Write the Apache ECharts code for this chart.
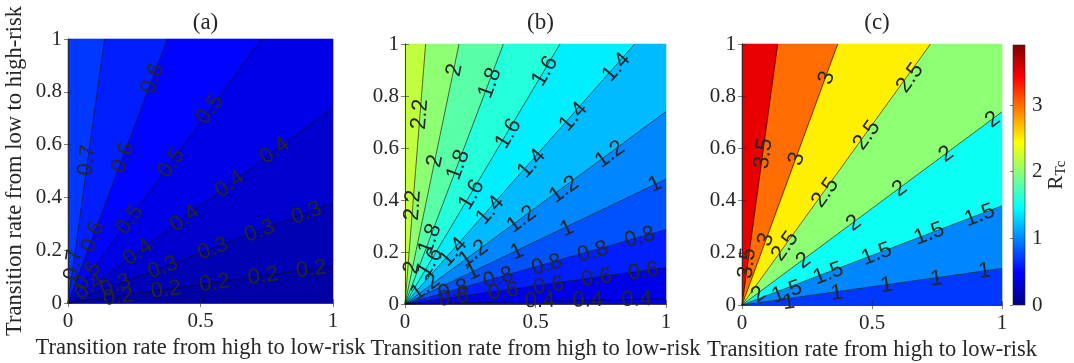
<!DOCTYPE html>
<html>
<head>
<meta charset="utf-8">
<script src="https://cdn.jsdelivr.net/npm/echarts@6/dist/echarts.min.js"></script>
<style>
html, body { margin: 0; padding: 0; background: #fff; }
#chart { width: 1074px; height: 363px; }
</style>
</head>
<body>
<div id="chart"></div>
<script>
// contour levels, and the point where each level's ray (from the origin) meets the border
var levelsA = [0.2, 0.3, 0.4, 0.5, 0.6, 0.7];
var endsA = [[1, 0.14], [1, 0.38], [1, 0.74], [0.73, 1], [0.375, 1], [0.138, 1]];
var floorA = 0.14;
var labelsA = [
    [0.32, 0.85, 0.6], [0.535, 0.733, 0.5], [0.072, 0.54, 0.7], [0.208, 0.55, 0.6],
    [0.39, 0.53, 0.5], [0.78, 0.577, 0.4], [0.61, 0.45, 0.4], [0.9, 0.34, 0.3],
    [0.233, 0.315, 0.5], [0.44, 0.32, 0.4], [0.723, 0.272, 0.3], [0.094, 0.25, 0.6],
    [0.264, 0.192, 0.4], [0.547, 0.205, 0.3], [0.02, 0.145, 0.7], [0.918, 0.127, 0.2],
    [0.736, 0.102, 0.2], [0.358, 0.134, 0.3], [0.075, 0.102, 0.5], [0.553, 0.075, 0.2],
    [0.082, 0.06, 0.4], [0.18, 0.066, 0.3], [0.37, 0.05, 0.2], [0.19, 0.022, 0.2]
];

var levelsB = [0.4, 0.6, 0.8, 1, 1.2, 1.4, 1.6, 1.8, 2, 2.2];
var endsB = [[1, 0.02], [1, 0.14], [1, 0.286], [1, 0.48], [1, 0.74], [0.88, 1], [0.594, 1], [0.377, 1], [0.207, 1], [0.079, 1]];
var floorB = 0.38;
var labelsB = [
    [0.19, 0.9, 2], [0.326, 0.85, 1.8], [0.536, 0.895, 1.6], [0.81, 0.91, 1.4],
    [0.057, 0.73, 2.2], [0.645, 0.72, 1.4], [0.396, 0.655, 1.6], [0.785, 0.575, 1.2],
    [0.115, 0.55, 2], [0.204, 0.535, 1.8], [0.485, 0.54, 1.4], [0.958, 0.46, 1],
    [0.61, 0.44, 1.2], [0.255, 0.42, 1.6], [0.03, 0.38, 2.2], [0.326, 0.36, 1.4],
    [0.447, 0.325, 1.2], [0.9, 0.256, 0.8], [0.62, 0.29, 1], [0.096, 0.25, 1.8],
    [0.72, 0.2, 0.8], [0.262, 0.194, 1.2], [0.185, 0.2, 1.4], [0.096, 0.16, 1.6],
    [0.43, 0.2, 1], [0.026, 0.14, 2], [0.543, 0.15, 0.8], [0.913, 0.125, 0.6],
    [0.734, 0.1, 0.6], [0.26, 0.122, 1], [0.357, 0.1, 0.8], [0.077, 0.065, 1.2],
    [0.55, 0.07, 0.6], [0.185, 0.053, 0.8], [0.377, 0.048, 0.6], [0.517, 0.012, 0.4],
    [0.7, 0.014, 0.4], [0.888, 0.017, 0.4], [0.185, 0.024, 0.6]
];

var levelsC = [1, 1.5, 2, 2.5, 3, 3.5];
var endsC = [[1, 0.14], [1, 0.38], [1, 0.74], [0.725, 1], [0.368, 1], [0.137, 1]];
var floorC = 0.7;
var labelsC = [
    [0.326, 0.87, 3], [0.646, 0.87, 2.5], [0.965, 0.71, 2], [0.48, 0.65, 2.5],
    [0.083, 0.58, 3.5], [0.21, 0.56, 3], [0.786, 0.578, 2], [0.32, 0.43, 2.5],
    [0.607, 0.445, 2], [0.914, 0.343, 1.5], [0.43, 0.313, 2], [0.72, 0.272, 1.5],
    [0.092, 0.25, 3], [0.02, 0.16, 3.5], [0.166, 0.225, 2.5], [0.933, 0.13, 1],
    [0.518, 0.195, 1.5], [0.237, 0.17, 2], [0.748, 0.1, 1], [0.332, 0.12, 1.5],
    [0.556, 0.075, 1], [0.364, 0.045, 1], [0.064, 0.04, 2], [0.173, 0.05, 1.5],
    [0.18, 0.01, 1]
];

var panelTitles = ['(a)', '(b)', '(c)'];
var barMax = 3.9;
var barTicks = [0, 1, 2, 3];
var jet = ['#000080', '#0000ff', '#0080ff', '#00ffff', '#80ff80', '#ffff00', '#ff8000', '#ff0000', '#800000'];

var serif = 'Liberation Serif';
var sans = 'Liberation Sans';
var ink = '#262626';
var xTitle = 'Transition rate from high to low-risk';
var yTitle = 'Transition rate from low to high-risk';

var grids = [
    { left: 68, top: 39, width: 265, height: 264, outerBoundsMode: 'none' },
    { left: 405, top: 44, width: 261, height: 260, outerBoundsMode: 'none' },
    { left: 742, top: 44, width: 260, height: 261, outerBoundsMode: 'none' },
    { left: 1013, top: 45, width: 12, height: 260, outerBoundsMode: 'none' }
];

function fillRegions(levels, ends, floor) {
    var pts = [[1, 0]].concat(ends).concat([[0, 1]]);
    var out = [];
    for (var i = 0; i < pts.length - 1; i++) {
        out.push([pts[i][0], pts[i][1], pts[i + 1][0], pts[i + 1][1], i === 0 ? floor : levels[i - 1]]);
    }
    return out;
}

function renderFill(params, api) {
    var a = [api.value(0), api.value(1)];
    var b = [api.value(2), api.value(3)];
    var pts = [[0, 0], a];
    if (a[0] === 1 && a[1] < 1 && b[1] === 1 && b[0] < 1) pts.push([1, 1]);
    pts.push(b);
    var c = api.visual('color');
    return {
        type: 'polygon',
        shape: { points: pts.map(function (p) { return api.coord(p); }) },
        style: { fill: c, stroke: c, lineWidth: 0.6 }
    };
}

function labelRenderer(levels, ends) {
    return function (params, api) {
        var lv = api.value(2);
        var e = ends[levels.indexOf(lv)];
        var p0 = api.coord([0, 0]), p1 = api.coord(e);
        var ang = Math.atan2(p0[1] - p1[1], p1[0] - p0[0]);
        var p = api.coord([api.value(0), api.value(1)]);
        return {
            type: 'text',
            x: p[0], y: p[1], rotation: ang,
            style: {
                text: String(lv), fontSize: 22, fontFamily: sans, fill: ink,
                align: 'center', verticalAlign: 'middle',
                textAlign: 'center', textVerticalAlign: 'middle'
            }
        };
    };
}

function renderBar(params, api) {
    var top = api.coord([0, api.value(1)]);
    var bot = api.coord([1, api.value(0)]);
    var stops = jet.map(function (c, i) { return { offset: i / (jet.length - 1), color: c }; });
    return {
        type: 'rect',
        shape: { x: top[0], y: top[1], width: bot[0] - top[0], height: bot[1] - top[1] },
        style: { fill: new echarts.graphic.LinearGradient(0, 1, 0, 0, stops), stroke: ink, lineWidth: 0.6 }
    };
}

var frameLine = { show: true, lineStyle: { color: ink, width: 0.6 } };
var frameTick = { show: true, inside: true, length: 4, lineStyle: { color: ink, width: 0.6 } };
var tickFont = { fontFamily: serif, fontSize: 21, color: ink };
var titleFont = { fontFamily: serif, fontSize: 22.5, color: ink };

var xAxes = [], yAxes = [], series = [];
var panels = [
    [levelsA, endsA, floorA, labelsA],
    [levelsB, endsB, floorB, labelsB],
    [levelsC, endsC, floorC, labelsC]
];

panels.forEach(function (pn, i) {
    xAxes.push({
        type: 'value', gridIndex: i, min: 0, max: 1, interval: 0.5, position: 'bottom', z: 10,
        axisLine: frameLine, axisTick: frameTick, splitLine: { show: false },
        axisLabel: Object.assign({ margin: 8 }, tickFont),
        name: xTitle, nameLocation: 'middle', nameGap: 30, nameTextStyle: titleFont
    });
    xAxes.push({
        type: 'value', gridIndex: i, min: 0, max: 1, interval: 0.5, position: 'top', z: 10,
        axisLine: frameLine, axisTick: frameTick, splitLine: { show: false }, axisLabel: { show: false }
    });
    yAxes.push({
        type: 'value', gridIndex: i, min: 0, max: 1, interval: 0.2, position: 'left', z: 10,
        axisLine: frameLine, axisTick: frameTick, splitLine: { show: false },
        axisLabel: Object.assign({ margin: 6 }, tickFont),
        name: i === 0 ? yTitle : '', nameLocation: 'middle', nameGap: 41, nameRotate: 90,
        nameTextStyle: titleFont
    });
    yAxes.push({
        type: 'value', gridIndex: i, min: 0, max: 1, interval: 0.2, position: 'right', z: 10,
        axisLine: frameLine, axisTick: frameTick, splitLine: { show: false }, axisLabel: { show: false }
    });

    var ax = i * 2;
    series.push({
        type: 'custom', xAxisIndex: ax, yAxisIndex: ax, silent: true, z: 1,
        renderItem: renderFill, data: fillRegions(pn[0], pn[1], pn[2])
    });
    series.push({
        type: 'lines', coordinateSystem: 'cartesian2d', xAxisIndex: ax, yAxisIndex: ax, silent: true, z: 2,
        lineStyle: { color: '#000', width: 0.7, opacity: 0.85 },
        data: pn[1].map(function (e) { return { coords: [[0, 0], e] }; })
    });
    series.push({
        type: 'custom', xAxisIndex: ax, yAxisIndex: ax, silent: true, z: 3,
        renderItem: labelRenderer(pn[0], pn[1]), data: pn[3]
    });
});

// colour bar
xAxes.push({ type: 'value', gridIndex: 3, min: 0, max: 1, show: false });
yAxes.push({
    type: 'value', gridIndex: 3, min: 0, max: barMax, position: 'right', z: 10,
    axisLine: { show: false },
    axisTick: Object.assign({}, frameTick, { length: 3, customValues: barTicks }),
    splitLine: { show: false },
    axisLabel: Object.assign({ margin: 7, customValues: barTicks }, tickFont),
    name: '{r|R}{s|Tc}', nameLocation: 'middle', nameGap: 12, nameRotate: 90,
    nameTextStyle: {
        rich: {
            r: { fontFamily: serif, fontSize: 21, color: ink },
            s: { fontFamily: serif, fontSize: 15, color: ink, padding: [9, 0, 0, 0] }
        }
    }
});
series.push({
    type: 'custom', xAxisIndex: 6, yAxisIndex: 6, silent: true,
    renderItem: renderBar, data: [[0, barMax]]
});

var option = {
    animation: false,
    backgroundColor: '#fff',
    title: panelTitles.map(function (t, i) {
        return {
            text: t, left: grids[i].left + grids[i].width / 2, textAlign: 'center', top: 6,
            textStyle: { fontFamily: serif, fontSize: 23, fontWeight: 'normal', color: ink }
        };
    }),
    grid: grids,
    xAxis: xAxes,
    yAxis: yAxes,
    visualMap: {
        type: 'continuous', show: false, min: 0, max: barMax, dimension: 4,
        seriesIndex: [0, 3, 6], inRange: { color: jet }
    },
    series: series
};

var chart = echarts.init(document.getElementById('chart'));
chart.setOption(option);
</script>
</body>
</html>
